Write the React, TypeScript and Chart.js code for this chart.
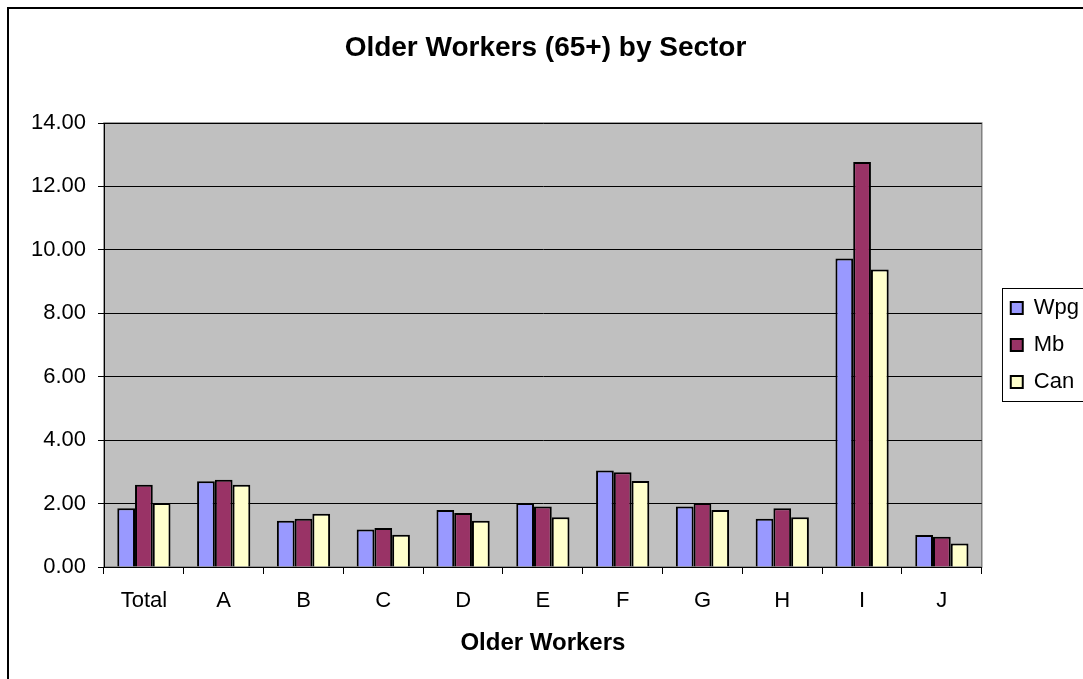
import React, { useEffect, useRef } from 'react';
import { Chart, registerables } from 'chart.js';

Chart.register(...registerables);

const categories = ['Total', 'A', 'B', 'C', 'D', 'E', 'F', 'G', 'H', 'I', 'J'];
const wpgValues = [1.85, 2.7, 1.46, 1.18, 1.8, 2.02, 3.04, 1.91, 1.52, 9.73, 1.01];
const mbValues = [2.59, 2.75, 1.52, 1.23, 1.7, 1.91, 2.99, 2.02, 1.85, 12.77, 0.95];
const canValues = [2.02, 2.59, 1.68, 1.02, 1.46, 1.57, 2.71, 1.8, 1.57, 9.38, 0.74];
const seriesLabels = ['Wpg', 'Mb', 'Can'];
const yMin = 0;
const yMax = 14;
const yStep = 2;

const FONT = 'Arial, "Liberation Sans", sans-serif';

const backgroundPlugin = {
  id: 'bgPlugin',
  beforeDraw(chart: any) {
    const { ctx, chartArea } = chart;
    const { left, top, right, bottom } = chartArea;
    ctx.save();
    ctx.fillStyle = '#ffffff';
    ctx.fillRect(0, 0, chart.width, chart.height);
    ctx.fillStyle = '#C0C0C0';
    ctx.fillRect(left, top, right - left, bottom - top);
    ctx.strokeStyle = '#808080';
    ctx.lineWidth = 1.5;
    ctx.strokeRect(left, top, right - left, bottom - top);
    ctx.strokeStyle = '#000000';
    ctx.lineWidth = 2;
    ctx.strokeRect(8, 8, 2000, 2000);
    ctx.restore();
  },
};

const legendPlugin = {
  id: 'legendShift',
  afterLayout(chart: any) {
    const l = chart.legend;
    if (l) {
      l.left += 14;
      l.right += 14;
    }
  },
  afterDraw(chart: any) {
    const l = chart.legend;
    if (!l || !l.legendHitBoxes || !l.legendHitBoxes.length) return;
    const hb = l.legendHitBoxes;
    const first = hb[0];
    const last = hb[hb.length - 1];
    const { ctx } = chart;
    ctx.save();
    ctx.strokeStyle = '#000000';
    ctx.lineWidth = 1;
    const x = Math.round(first.left - 9) + 0.5;
    const y = Math.round(first.top - 9) + 0.5;
    const b = Math.round(last.top + last.height + 8) + 0.5;
    ctx.strokeRect(x, y, 300, b - y);
    ctx.restore();
  },
};

export default function App() {
  const canvasRef = useRef<HTMLCanvasElement | null>(null);

  useEffect(() => {
    if (!canvasRef.current) return;
    Chart.defaults.font.family = FONT;
    Chart.defaults.color = '#000000';
    const chart = new Chart(canvasRef.current, {
      type: 'bar',
      data: {
        labels: categories,
        datasets: [
          {
            label: seriesLabels[0],
            data: wpgValues,
            backgroundColor: '#9999FF',
            borderColor: '#000000',
            borderWidth: 2,
          },
          {
            label: seriesLabels[1],
            data: mbValues,
            backgroundColor: '#993366',
            borderColor: '#000000',
            borderWidth: 2,
          },
          {
            label: seriesLabels[2],
            data: canValues,
            backgroundColor: '#FFFFCC',
            borderColor: '#000000',
            borderWidth: 2,
          },
        ],
      },
      options: {
        responsive: false,
        animation: false,
        layout: { padding: { left: 16, right: 8, top: 0, bottom: 0 } },
        datasets: {
          bar: { categoryPercentage: 0.667, barPercentage: 1.0 },
        },
        plugins: {
          title: {
            display: true,
            text: 'Older Workers (65+) by Sector',
            color: '#000000',
            font: { family: FONT, size: 28, weight: 'bold', lineHeight: 1.2 },
            padding: { top: 31.5, bottom: 57.9 },
          },
          legend: {
            display: true,
            position: 'right',
            fullSize: false,
            align: 'center',
            labels: {
              color: '#000000',
              font: { family: FONT, size: 22, lineHeight: 1.2 },
              boxWidth: 12,
              boxHeight: 12,
              padding: 15,
            },
          },
          tooltip: { enabled: false },
        },
        scales: {
          x: {
            grid: {
              display: true,
              drawOnChartArea: false,
              drawTicks: true,
              tickLength: 7,
              tickColor: '#000000',
              offset: true,
            },
            border: { display: true, color: '#000000', width: 1 },
            ticks: {
              color: '#000000',
              font: { family: FONT, size: 22, lineHeight: 1.2 },
              padding: 14,
              maxRotation: 0,
            },
            title: {
              display: true,
              text: 'Older Workers',
              color: '#000000',
              font: { family: FONT, size: 24, weight: 'bold', lineHeight: 1.2 },
              padding: { top: 0, bottom: 21 },
            },
            afterFit: (scale: any) => {
              scale.height = 112;
            },
          },
          y: {
            min: yMin,
            max: yMax,
            grid: {
              display: true,
              color: '#000000',
              lineWidth: 1,
              drawTicks: true,
              tickLength: 6,
              tickColor: '#000000',
            },
            border: { display: true, color: '#000000', width: 1 },
            ticks: {
              stepSize: yStep,
              color: '#000000',
              font: { family: FONT, size: 22, lineHeight: 1.2 },
              padding: 12,
              callback: (v: any) => Number(v).toFixed(2),
            },
            afterFit: (scale: any) => {
              scale.width = 88;
            },
          },
        },
      },
      plugins: [backgroundPlugin, legendPlugin],
    });
    return () => chart.destroy();
  }, []);

  return (
    <canvas
      ref={canvasRef}
      width={1083}
      height={679}
      style={{ position: 'fixed', left: 0, top: 0, width: 1083, height: 679, display: 'block' }}
    />
  );
}
